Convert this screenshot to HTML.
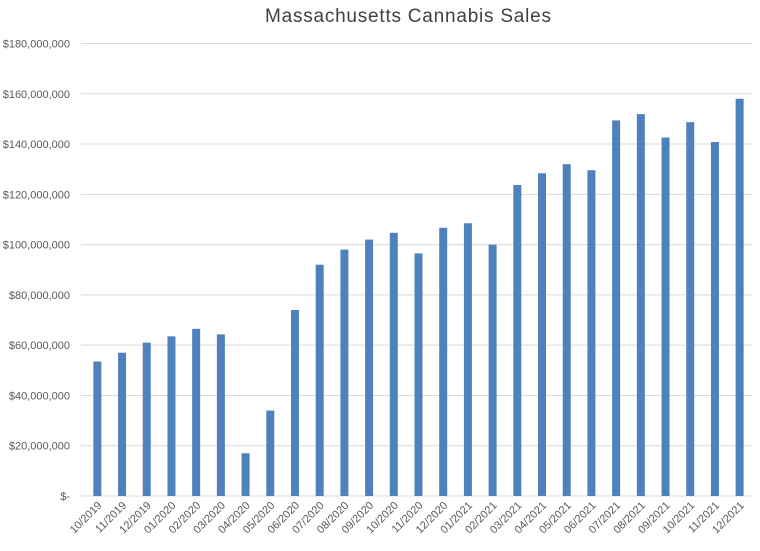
<!DOCTYPE html>
<html><head><meta charset="utf-8"><style>
body{margin:0;background:#fff;font-family:"Liberation Sans",sans-serif;}
</style></head><body>
<svg id="chart" width="760" height="546" xmlns="http://www.w3.org/2000/svg">
<text x="408" y="22" text-anchor="middle" font-size="19" textLength="286" fill="#404040">Massachusetts Cannabis Sales</text>
<g id="grid"></g><g id="ylab"></g><g id="bars"></g><g id="xlab"></g>
</svg>
<script>
const categories=["10/2019","11/2019","12/2019","01/2020","02/2020","03/2020","04/2020","05/2020","06/2020","07/2020","08/2020","09/2020","10/2020","11/2020","12/2020","01/2021","02/2021","03/2021","04/2021","05/2021","06/2021","07/2021","08/2021","09/2021","10/2021","11/2021","12/2021"];
const sales=[53.5,57,61,63.5,66.5,64.3,17,34,74,92,98,102,104.7,96.5,106.7,108.5,100,123.7,128.4,132,129.6,149.4,151.9,142.6,148.7,140.8,158];
const yTicks=[0,20,40,60,80,100,120,140,160,180];
const yTickLabels=["$-","$20,000,000","$40,000,000","$60,000,000","$80,000,000","$100,000,000","$120,000,000","$140,000,000","$160,000,000","$180,000,000"];
const NS="http://www.w3.org/2000/svg";
const x0=85,x1=752,yb=496,yt=43.5;
const y=v=>yb-(v/180)*(yb-yt);
const step=(x1-x0)/categories.length;
const xc=i=>x0+step*(i+0.5);
function mk(t,a,p){const e=document.createElementNS(NS,t);for(const k in a)e.setAttribute(k,a[k]);p.appendChild(e);return e;}
const g=document.getElementById('grid'),yl=document.getElementById('ylab'),b=document.getElementById('bars'),xl=document.getElementById('xlab');
yTicks.forEach((v,i)=>{
 const l=mk('line',{x1:x0-4,x2:x1,y1:y(v),y2:y(v),stroke:'#d9d9d9','stroke-width':1},g);
 
 
 const t=mk('text',{x:70,y:y(v)+4,'text-anchor':'end','font-size':11,fill:'#595959'},yl);
 t.textContent=yTickLabels[i];
 
 
});
sales.forEach((v,i)=>{
 const r=mk('rect',{x:xc(i)-4,y:y(v),width:8,height:yb-y(v),fill:'#4f81bd'},b);
 
 
 const t=mk('text',{x:0,y:0,'text-anchor':'end','font-size':11,fill:'#595959',transform:`translate(${xc(i)+5},${yb+10}) rotate(-45)`},xl);
 t.textContent=categories[i];
 
 
});
</script>
</body></html>
